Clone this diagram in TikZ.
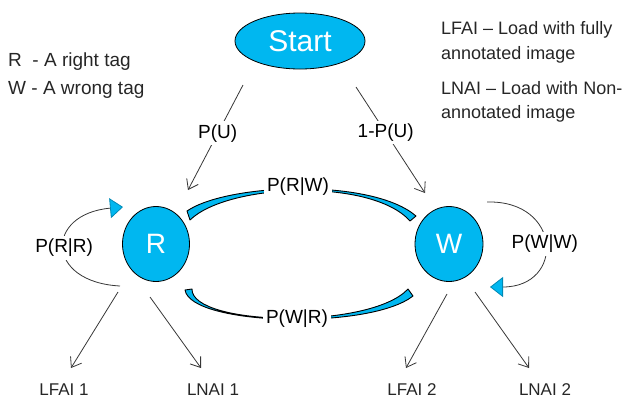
\documentclass[tikz,border=0pt]{standalone}
\usepackage{fontspec}
\setmainfont{Liberation Sans}
\usetikzlibrary{arrows.meta,shapes.geometric}
\definecolor{sky}{RGB}{0,183,240}
\definecolor{ink}{RGB}{55,55,55}
\begin{document}
\begin{tikzpicture}[x=1pt,y=-1pt,
  state/.style={ellipse,draw=black,line width=0.8pt,fill=sky,text=white,inner sep=0pt},
  lbl/.style={font=\fontsize{19}{19}\selectfont,fill=white,inner sep=3pt},
  txt/.style={font=\fontsize{17}{24.5}\selectfont,inner sep=0pt,text=black!85},
  arr/.style={draw=ink,line width=0.8pt,-{Straight Barb[length=9pt,width=13pt]}},
  selfloop/.style={draw=ink,line width=0.8pt,-{Triangle[length=13pt,width=20pt,fill=sky,color=sky!75!black]}},
  cres/.style={fill=sky,draw=black,line width=0.9pt,line join=round}]
\useasboundingbox (0,0) rectangle (624,408);

% states
\node[state,minimum width=130pt,minimum height=56pt,font=\fontsize{30}{30}\selectfont] (S) at (300,41) {Start};
\node[state,minimum width=67pt,minimum height=75pt,font=\fontsize{28}{28}\selectfont] (R) at (156,244) {R};
\node[state,minimum width=68pt,minimum height=75pt,font=\fontsize{28}{28}\selectfont] (W) at (449,244) {W};

% legends
\node[txt,font=\fontsize{19}{19}\selectfont,anchor=west] (k1) at (8,62) {R\ \ - A right tag};
\node[txt,font=\fontsize{19}{19}\selectfont,anchor=west] (k2) at (8,90) {W - A wrong tag};
\node[txt,font=\fontsize{18}{24.5}\selectfont,anchor=west,align=left] (d1) at (441,42.5) {LFAI – Load with fully\\annotated image};
\node[txt,font=\fontsize{18}{24.5}\selectfont,anchor=west,align=left] (d2) at (441,102) {LNAI – Load with Non-\\annotated image};

% outputs
\node[txt] (o1) at (64,390) {LFAI 1};
\node[txt] (o2) at (213,390) {LNAI 1};
\node[txt] (o3) at (412,390) {LFAI 2};
\node[txt] (o4) at (545,390) {LNAI 2};

% connector ends
\coordinate (s1) at (243,85);  \coordinate (r1) at (188,190);
\coordinate (s2) at (356,87);  \coordinate (w1) at (425,193);
\coordinate (ra) at (118,292); \coordinate (ta) at (71,368);
\coordinate (rb) at (150,297); \coordinate (tb) at (201,368);
\coordinate (wa) at (447,294); \coordinate (tc) at (406,368);
\coordinate (wb) at (475,292); \coordinate (td) at (529,368);
\coordinate (rl1) at (120,286); \coordinate (rl2) at (123,207);
\coordinate (wl1) at (487,202); \coordinate (wl2) at (490,287);

% start transitions
\draw[arr] (s1) -- node[lbl,pos=0.46]{P(U)} (r1);
\draw[arr] (s2) -- node[lbl,pos=0.43]{1-P(U)} (w1);

% outputs
\draw[arr] (ra) -- (ta);
\draw[arr] (rb) -- (tb);
\draw[arr] (wa) -- (tc);
\draw[arr] (wb) -- (td);

% self loops
\draw[selfloop] (rl1) .. controls (45,282) and (45,214) .. node[lbl,pos=0.5]{P(R|R)} (rl2);
\draw[selfloop] (wl1) .. controls (562,200) and (565,287) .. node[lbl,pos=0.5]{P(W|W)} (wl2);

% curved block arrows between R and W
\path[cres] (187,211) .. controls (228,183) and (372,178) .. (416,216)
  -- (410,221) .. controls (372,178) and (228,183) .. (190,220) -- cycle;
\node[lbl] (lrw) at (298,187) {P(R|W)};
\path[cres] (185,290) .. controls (191,326) and (370,330) .. (413,296)
  -- (408,289) .. controls (370,330) and (191,326) .. (192,289) -- cycle;
\node[lbl] (lwr) at (297,319) {P(W|R)};
\end{tikzpicture}
\end{document}
